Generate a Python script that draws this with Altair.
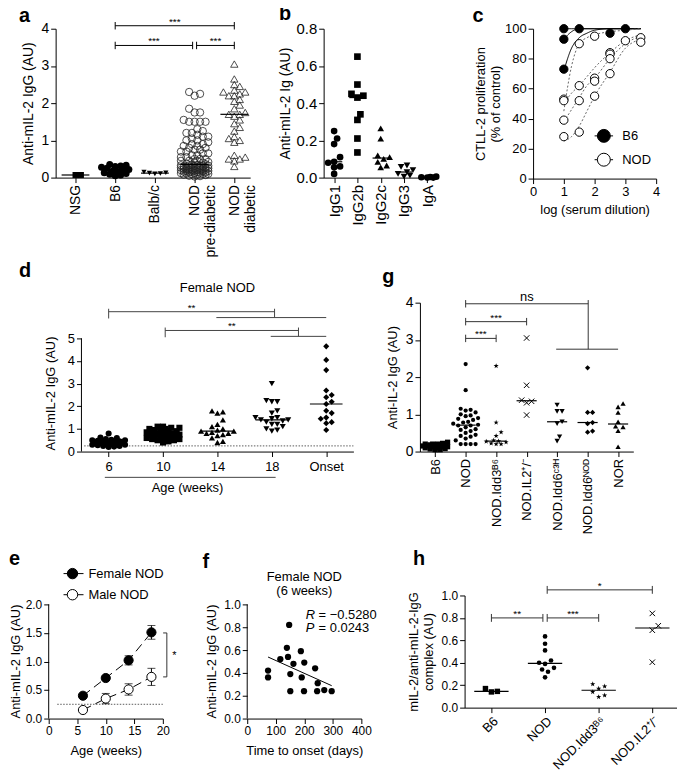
import json
import math
import numpy as np
import pandas as pd
import altair as alt

FONT = "Liberation Sans"

# ---------------- data ----------------
# panel a
A_LABELS = [["NSG"], ["B6"], ["Balb/c"], ["NOD", "pre-diabetic"], ["NOD", "diabetic"]]
A_NSG = [0.07, 0.07]
A_B6 = [0.35, 0.33, 0.31, 0.3, 0.28, 0.25, 0.22, 0.2, 0.17, 0.15, 0.13, 0.11, 0.09, 0.07, 0.05]
A_BALBC = [0.15, 0.13, 0.12, 0.11, 0.1]
A_NOD_PRE = [2.3, 2.25, 2.2, 1.85, 1.75, 1.75, 1.55, 1.5, 1.5, 1.5, 1.5, 1.3, 1.25, 1.2, 1.2,
             1.15, 1.1, 1.1, 1.05, 1.0, 1.0, 0.95, 0.9, 0.9, 0.85, 0.85, 0.8, 0.8, 0.75, 0.75,
             0.7, 0.7, 0.65, 0.65, 0.6, 0.6, 0.55, 0.55, 0.5, 0.5, 0.5, 0.45, 0.45, 0.45, 0.42,
             0.4, 0.4, 0.38, 0.36, 0.35, 0.34, 0.33, 0.33, 0.32, 0.32, 0.31, 0.3, 0.3, 0.3, 0.28,
             0.28, 0.28, 0.27, 0.26, 0.26, 0.25, 0.25, 0.24, 0.24, 0.23, 0.22, 0.22, 0.21, 0.2,
             0.2, 0.2, 0.19, 0.18, 0.18, 0.17, 0.16, 0.16, 0.15, 0.14, 0.14, 0.13, 0.12, 0.12,
             0.11, 0.1, 0.1, 0.09, 0.08, 0.08, 0.07, 0.05, 0.04, 0.03]
A_NOD_DIAB = [3.05, 2.65, 2.5, 2.45, 2.35, 2.3, 2.3, 2.25, 2.2, 2.2, 2.1, 2.05, 1.95, 1.85,
              1.75, 1.7, 1.7, 1.65, 1.55, 1.45, 1.35, 1.25, 1.1, 1.05, 1.0, 0.95, 0.6, 0.55,
              0.5, 0.5, 0.45, 0.3]
A_BRACKETS = [(1, 4, 4.08, "***"), (1, 2.95, 3.55, "***"), (3.05, 4, 3.55, "***")]

# panel b
B_LABELS = [["IgG1"], ["IgG2b"], ["IgG2c"], ["IgG3"], ["IgA"]]
B_IGG1 = [0.25, 0.21, 0.18, 0.11, 0.085, 0.08, 0.06, 0.055, 0.02]
B_IGG2B = [0.65, 0.5, 0.45, 0.44, 0.43, 0.34, 0.31, 0.21, 0.135]
B_IGG2C = [0.265, 0.21, 0.12, 0.11, 0.1, 0.085, 0.065, 0.055]
B_IGG3 = [0.065, 0.057, 0.04, 0.03, 0.02, 0.01, 0.005]
B_IGA = [0.0, 0.003, 0.005, 0.002, 0.0]

# panel c
C_B6_X = [1, 1, 1, 1.5, 2.5, 3]
C_B6_Y = [100, 93, 73, 100, 97, 100]
C_NOD_X = [1, 1, 1, 1, 1.5, 1.5, 1.5, 1.5, 2, 2, 2, 2, 2.5, 2.5, 2.5, 2.5, 3, 3.5, 3.5]
C_NOD_Y = [53, 52, 39, 28, 90, 62, 52, 31, 95, 67, 65, 55, 84, 83, 80, 70, 92, 94, 91]
C_FIT_X = [1, 1.25, 1.5, 1.75, 2, 2.5, 3, 3.5]
C_FIT_B6 = [[100, 100, 100, 100, 100, 100, 100, 100],
            [93, 98, 100, 100, 100, 100, 100, 100],
            [72, 87, 94, 97, 99, 100, 100, 100]]
C_FIT_NOD = [[45, 75, 90, 94, 96, 98, 99, 100],
             [50, 57, 62, 68, 74, 84, 92, 96],
             [38, 46, 54, 62, 67, 80, 90, 95],
             [25, 28, 35, 45, 55, 71, 87, 93]]
C_LEGEND = ["B6", "NOD"]
C_LEGEND_Y = [28.5, 12.6]

# panel d
D_LABELS = [["6"], ["10"], ["14"], ["18"], ["Onset"]]
D_6W = [0.8, 0.62, 0.6, 0.55, 0.52, 0.5, 0.5, 0.48, 0.45, 0.45, 0.42, 0.4, 0.4, 0.4, 0.38,
        0.35, 0.35, 0.33, 0.3, 0.3, 0.28, 0.25, 0.25, 0.22, 0.2]
D_10W = [1.1, 1.1, 1.05, 1.05, 1.0, 1.0, 0.95, 0.95, 0.9, 0.9, 0.85, 0.85, 0.8, 0.8, 0.78,
         0.75, 0.75, 0.72, 0.7, 0.7, 0.65, 0.65, 0.6, 0.6, 0.55, 0.55, 0.5, 0.5, 0.45, 0.4]
D_14W = [1.8, 1.75, 1.7, 1.4, 1.2, 1.1, 1.0, 0.95, 0.9, 0.9, 0.85, 0.8, 0.8, 0.75, 0.7,
         0.6, 0.45, 0.4]
D_18W = [3.0, 2.25, 2.2, 2.2, 1.8, 1.7, 1.5, 1.5, 1.45, 1.4, 1.4, 1.35, 1.3, 1.2, 1.2, 1.1,
         1.0, 0.95, 0.9]
D_ONSET = [4.65, 4.05, 3.6, 2.7, 2.5, 2.4, 2.2, 2.1, 1.8, 1.7, 1.5, 1.45, 1.3, 1.25, 0.95]
D_BRACKETS = [(0, 3.05, 6.18, "**", 1.98, 4.0, 5.92), (1.04, 3.49, 5.35, "**", 2.98, 4.0, 5.09)]
D_THRESHOLD = 0.25

# panel g
G_LABELS = [["B6"], ["NOD"], ["NOD.Idd3ᴮ⁶"], ["NOD.IL2⁺/⁻"], ["NOD.Idd6ᶜ³ᴴ"], ["NOD.Idd6ᴺᴼᴰ"], ["NOR"]]
G_B6 = [0.25, 0.22, 0.2, 0.2, 0.2, 0.18, 0.18, 0.17, 0.15, 0.15, 0.15, 0.13, 0.12, 0.12, 0.1,
        0.1, 0.08, 0.07, 0.05, 0.05]
G_NOD = [2.35, 1.65, 1.15, 1.12, 1.1, 1.05, 1.0, 0.97, 0.95, 0.9, 0.88, 0.85, 0.8, 0.78, 0.75,
         0.72, 0.7, 0.7, 0.65, 0.6, 0.58, 0.55, 0.5, 0.45, 0.42, 0.4, 0.35, 0.3, 0.2, 0.2, 0.2, 0.2]
G_IDD3 = [2.3, 0.78, 0.52, 0.42, 0.3, 0.28, 0.27, 0.25, 0.22, 0.2, 0.2]
G_IL2 = [3.05, 1.78, 1.38, 1.35, 1.31, 0.98]
G_C3H = [1.25, 1.08, 1.08, 0.8, 0.75, 0.4, 0.28]
G_IDD6NOD = [2.25, 1.05, 1.05, 0.78, 0.75, 0.55, 0.52]
G_NOR = [1.29, 1.2, 1.05, 0.8, 0.68, 0.66, 0.56, 0.13]
G_BRACKETS = [(1, 3, 3.49, "***"), (1, 2, 3.04, "***")]
G_NS = [(1, 5.02, 3.97, "ns", 3.97, 6.0, 2.75)]

# panel e
E_AGE = [6, 10, 14, 18]
E_FEMALE = [0.4, 0.71, 1.02, 1.51]
E_FEMALE_SEM = [0.02, 0.03, 0.08, 0.12]
E_MALE = [0.15, 0.35, 0.51, 0.73]
E_MALE_SEM = [0.02, 0.09, 0.1, 0.15]
E_LEGEND = ["Female NOD", "Male NOD"]
E_LEGEND_Y = [2.54, 2.17]

# panel f
F_DAYS = [73, 73, 116, 147, 139, 143, 151, 151, 162, 188, 191, 200, 199, 238, 247, 245, 270, 296]
F_IGG = [0.42, 0.36, 0.52, 0.82, 0.62, 0.54, 0.39, 0.24, 0.48, 0.59, 0.36, 0.49, 0.24, 0.44,
         0.31, 0.24, 0.25, 0.24]

# panel h
H_LABELS = [["B6"], ["NOD"], ["NOD.Idd3ᴮ⁶"], ["NOD.IL2⁺/⁻"]]
H_B6 = [0.17, 0.14, 0.145]
H_NOD = [0.635, 0.57, 0.51, 0.42, 0.4, 0.39, 0.355, 0.34, 0.32, 0.27]
H_IDD3 = [0.21, 0.19, 0.17, 0.14, 0.11, 0.095]
H_IL2 = [0.84, 0.73, 0.69, 0.405]
H_BRACKETS = [(1.04, 3, 1.05, "*"), (0, 0.96, 0.8, "**"), (1.04, 2, 0.8, "***")]

STAR = ("M0,-1L0.235,-0.324L0.951,-0.309L0.38,0.124L0.588,0.809L0,0.4L-0.588,0.809"
        "L-0.38,0.124L-0.951,-0.309L-0.235,-0.324Z")
XMARK = "M-1,-1L1,1M-1,1L1,-1"


# ---------------- helpers ----------------
def swarm(vals, ppy, diam, maxoff):
    order = sorted(range(len(vals)), key=lambda i: vals[i])
    step = diam / 2.0
    cands = [0.0]
    k = 1
    while k * step <= maxoff + 1e-9:
        cands += [k * step, -k * step]
        k += 1
    placed = []
    offs = [0.0] * len(vals)
    for i in order:
        yy = vals[i] * ppy
        best, bestd = 0.0, -1.0
        for c in cands:
            d = min((math.hypot(c - px, yy - py) for px, py in placed), default=1e9)
            if d >= diam:
                best = c
                break
            if d > bestd:
                best, bestd = c, d
        placed.append((best, yy))
        offs[i] = best
    return offs


def labexpr(labels):
    return json.dumps(labels, ensure_ascii=False) + "[round(datum.value)]"


def strip_layers(groups, styles, X, Y, ppx, ppy, diam, maxoff, half):
    layers = []
    for idx, (vals, st) in enumerate(zip(groups, styles)):
        offs = swarm(vals, ppy, diam, maxoff)
        df = pd.DataFrame({"x": [idx + o / ppx for o in offs], "y": vals})
        layers.append(alt.Chart(df).mark_point(opacity=1, **st).encode(x=X, y=Y))
    med = pd.DataFrame({
        "x": [i - half for i in range(len(groups))],
        "x2": [i + half for i in range(len(groups))],
        "y": [float(np.median(g)) for g in groups],
    })
    med["y2"] = med["y"]
    layers.append(alt.Chart(med).mark_rule(color="black", strokeWidth=1.2).encode(
        x=X, x2=alt.X2("x2"), y=Y, y2=alt.Y2("y2")))
    return layers


def seg_layer(segs, X, Y, color="black", width=1.0, dash=None):
    df = pd.DataFrame(segs, columns=["x", "x2", "y", "y2"])
    kw = dict(color=color, strokeWidth=width)
    if dash:
        kw["strokeDash"] = dash
    return alt.Chart(df).mark_rule(**kw).encode(x=X, x2=alt.X2("x2"), y=Y, y2=alt.Y2("y2"))


def text_layer(items, X, Y, size=10, dy=0, dx=0, baseline="alphabetic", align="center",
               style="normal"):
    df = pd.DataFrame(items, columns=["x", "y", "t"])
    return alt.Chart(df).mark_text(font=FONT, fontSize=size, dy=dy, dx=dx, baseline=baseline,
                                   align=align, color="black", fontStyle=style).encode(
        x=X, y=Y, text="t:N")


def brackets(items, tick):
    segs, texts = [], []
    for x1, x2, y, lab in items:
        segs += [(x1, x2, y, y), (x1, x1, y - tick, y + tick), (x2, x2, y - tick, y + tick)]
        texts.append(((x1 + x2) / 2, y, lab))
    return segs, texts


def branch_brackets(items, up, down):
    segs, texts = [], []
    for x1, x2, y, lab, lx1, lx2, ly in items:
        segs += [(x1, x2, y, y), (x1, x1, y + up, y - down), (x2, x2, y + up, ly), (lx1, lx2, ly, ly)]
        texts.append(((x1 + x2) / 2, y, lab))
    return segs, texts


def letter(t, dx, dy):
    return alt.TitleParams(text=t, anchor="start", frame="group", orient="top", fontSize=20,
                           fontWeight="bold", font=FONT, dx=dx, dy=dy, offset=0, color="black",
                           baseline="alphabetic")


def qscale(lo, hi):
    return alt.Scale(domain=[lo, hi], nice=False, zero=False)


def spacer(w):
    return alt.Chart(pd.DataFrame({"v": [0]})).mark_point(opacity=0, size=1).encode(
        x=alt.value(0), y=alt.value(0)).properties(width=w, height=1)


# ---------------- panel a ----------------
Xa = alt.X("x:Q", scale=qscale(-0.5, 4.4), axis=alt.Axis(
    values=[0, 1, 2, 3, 4], labelExpr=labexpr(A_LABELS), labelAngle=-90, labelFontSize=14,
    labelOverlap=False, labelFlush=False, title=None))
Ya = alt.Y("y:Q", scale=qscale(0, 4), axis=alt.Axis(
    values=[0, 1, 2, 3, 4], format="d", labelFontSize=14, title="Anti-mIL-2 IgG (AU)",
    titleFontSize=14, titlePadding=6))
a_styles = [dict(shape="square", filled=True, size=36, color="black"),
            dict(shape="circle", filled=True, size=50, color="black"),
            dict(shape="triangle-down", filled=True, size=28, color="black"),
            dict(shape="circle", filled=False, size=55, color="#222222", strokeWidth=0.8),
            dict(shape="triangle-up", filled=False, size=55, color="#222222", strokeWidth=0.8)]
a_layers = strip_layers([A_NSG, A_B6, A_BALBC, A_NOD_PRE, A_NOD_DIAB], a_styles, Xa, Ya,
                        40, 37.5, 5.5, 16, 0.35)
segs, texts = brackets(A_BRACKETS, 0.1)
a_layers += [seg_layer(segs, Xa, Ya), text_layer(texts, Xa, Ya, size=10, dy=-1)]
panel_a = alt.layer(*a_layers).properties(width=196, height=150, title=letter("a", -37, 25))

# ---------------- panel b ----------------
Xb = alt.X("x:Q", scale=qscale(-0.45, 4.45), axis=alt.Axis(
    values=[0, 1, 2, 3, 4], labelExpr=labexpr(B_LABELS), labelAngle=-90, labelFontSize=15,
    labelOverlap=False, labelFlush=False, title=None))
Yb = alt.Y("y:Q", scale=qscale(0, 0.8), axis=alt.Axis(
    values=[0, 0.2, 0.4, 0.6, 0.8], format=".1f", labelFontSize=15, title="Anti-mIL-2 Ig (AU)",
    titleFontSize=14, titlePadding=4))
b_styles = [dict(shape="circle", filled=True, size=45, color="black"),
            dict(shape="square", filled=True, size=45, color="black"),
            dict(shape="triangle-up", filled=True, size=45, color="black"),
            dict(shape="triangle-down", filled=True, size=45, color="black"),
            dict(shape="circle", filled=True, size=45, color="black")]
b_layers = strip_layers([B_IGG1, B_IGG2B, B_IGG2C, B_IGG3, B_IGA], b_styles, Xb, Yb,
                        23.5, 187.5, 6, 9, 0.35)
panel_b = alt.layer(*b_layers).properties(width=115, height=150, title=letter("b", -45, 18))

# ---------------- panel c ----------------
Xc = alt.X("x:Q", scale=qscale(0, 4), axis=alt.Axis(
    values=[0, 1, 2, 3, 4], format="d", labelFontSize=13, labelFlush=False,
    title="log (serum dilution)", titleFontSize=13, titlePadding=5))
Yc = alt.Y("y:Q", scale=qscale(0, 100), axis=alt.Axis(
    values=[0, 20, 40, 60, 80, 100], format="d", labelFontSize=13,
    title=["CTLL-2 proliferation", "(% of control)"], titleFontSize=13, titlePadding=2))
fit_rows = []
for k, curve in enumerate(C_FIT_B6):
    for xv, yv in zip(C_FIT_X, curve):
        fit_rows.append({"x": xv, "y": yv, "grp": "B6", "animal": "B6_%d" % k})
for k, curve in enumerate(C_FIT_NOD):
    for xv, yv in zip(C_FIT_X, curve):
        fit_rows.append({"x": xv, "y": yv, "grp": "NOD", "animal": "NOD_%d" % k})
c_fit = pd.DataFrame(fit_rows)
c_lines = alt.Chart(c_fit).mark_line(interpolate="monotone", strokeWidth=1).encode(
    x=Xc, y=Yc, detail="animal:N",
    color=alt.Color("grp:N", scale=alt.Scale(domain=["B6", "NOD"], range=["black", "#666666"]),
                    legend=None),
    strokeDash=alt.StrokeDash("grp:N", scale=alt.Scale(domain=["B6", "NOD"],
                                                       range=[[1, 0], [2, 2]]), legend=None))
c_b6 = alt.Chart(pd.DataFrame({"x": C_B6_X, "y": C_B6_Y})).mark_point(
    shape="circle", size=70, filled=True, fill="black", stroke="black", strokeWidth=1,
    opacity=1).encode(x=Xc, y=Yc)
c_nod = alt.Chart(pd.DataFrame({"x": C_NOD_X, "y": C_NOD_Y})).mark_point(
    shape="circle", size=70, filled=True, fill="white", stroke="black", strokeWidth=1,
    opacity=1).encode(x=Xc, y=Yc)
c_leg_line = seg_layer([(2.0, 2.6, yv, yv) for yv in C_LEGEND_Y], Xc, Yc)
c_leg_b6 = alt.Chart(pd.DataFrame({"x": [2.3], "y": [C_LEGEND_Y[0]]})).mark_point(
    shape="circle", size=170, filled=True, fill="black", stroke="black", strokeWidth=1,
    opacity=1).encode(x=Xc, y=Yc)
c_leg_nod = alt.Chart(pd.DataFrame({"x": [2.3], "y": [C_LEGEND_Y[1]]})).mark_point(
    shape="circle", size=170, filled=True, fill="white", stroke="black", strokeWidth=1,
    opacity=1).encode(x=Xc, y=Yc)
c_leg_txt = text_layer([(2.9, yv, t) for t, yv in zip(C_LEGEND, C_LEGEND_Y)], Xc, Yc, size=13,
                       baseline="middle", align="left")
panel_c = alt.layer(c_lines, c_b6, c_nod, c_leg_line, c_leg_b6, c_leg_nod, c_leg_txt).properties(
    width=124, height=151, title=letter("c", -61, 19))

# ---------------- panel d ----------------
D_TOP = 150 / 22.8
Xd = alt.X("x:Q", scale=qscale(-0.5, 4.5), axis=alt.Axis(
    values=[0, 1, 2, 3, 4], labelExpr=labexpr(D_LABELS), labelAngle=0, labelFontSize=13,
    labelPadding=4, labelOverlap=False, labelFlush=False, title=None))
Yd = alt.Y("y:Q", scale=qscale(0, D_TOP), axis=alt.Axis(
    values=[0, 1, 2, 3, 4, 5], format="d", labelFontSize=13, title="Anti-mIL-2 IgG (AU)",
    titleFontSize=13, titlePadding=10, domain=False, titleY=91))
d_styles = [dict(shape="circle", filled=True, size=38, color="black"),
            dict(shape="square", filled=True, size=38, color="black"),
            dict(shape="triangle-up", filled=True, size=38, color="black"),
            dict(shape="triangle-down", filled=True, size=38, color="black"),
            dict(shape="diamond", filled=True, size=38, color="black")]
d_layers = [seg_layer([(-0.5, -0.5, 0, 5)], Xd, Yd),
            seg_layer([(-0.45, 4.5, D_THRESHOLD, D_THRESHOLD)], Xd, Yd, color="#333333",
                      width=0.8, dash=[1.5, 1.5])]
d_layers += strip_layers([D_6W, D_10W, D_14W, D_18W, D_ONSET], d_styles, Xd, Yd,
                         54.8, 22.8, 5.5, 18, 0.3)
segs, texts = branch_brackets(D_BRACKETS, 0.13, 0.3)
segs.append((-0.07, 3.07, -1.14, -1.14))
d_layers += [seg_layer(segs, Xd, Yd, color="#444444"),
             text_layer(texts, Xd, Yd, size=10, dy=-1),
             text_layer([(2.0, 7.24, "Female NOD"), (1.45, -1.62, "Age (weeks)")], Xd, Yd,
                        size=13, baseline="middle")]
panel_d = alt.layer(*d_layers).properties(width=274, height=150, title=letter("d", -63, 15))

# ---------------- panel g ----------------
Xg = alt.X("x:Q", scale=qscale(-0.5, 6.5), axis=alt.Axis(
    values=list(range(7)), labelExpr=labexpr(G_LABELS), labelAngle=-90, labelFontSize=13,
    labelOverlap=False, labelFlush=False, title="g", titleOpacity=0, titleX=10, titleY=96,
    titleBaseline="bottom", titleAlign="left", titleFontSize=10))
Yg = alt.Y("y:Q", scale=qscale(0, 4), axis=alt.Axis(
    values=[0, 1, 2, 3, 4], format="d", labelFontSize=14, title="Anti-IL-2 IgG (AU)",
    titleFontSize=13, titlePadding=6))
g_styles = [dict(shape="square", filled=True, size=28, color="black"),
            dict(shape="circle", filled=True, size=18, color="black"),
            dict(shape=STAR, filled=True, size=30, color="black"),
            dict(shape=XMARK, filled=False, size=30, color="black", strokeWidth=1),
            dict(shape="triangle-down", filled=True, size=28, color="black"),
            dict(shape="diamond", filled=True, size=28, color="black"),
            dict(shape="triangle-up", filled=True, size=28, color="black")]
g_layers = strip_layers([G_B6, G_NOD, G_IDD3, G_IL2, G_C3H, G_IDD6NOD, G_NOR], g_styles,
                        Xg, Yg, 30.7, 37.5, 5, 14, 0.33)
segs, texts = brackets(G_BRACKETS, 0.1)
segs2, texts2 = branch_brackets(G_NS, 0.1, 0.1)
g_layers += [seg_layer(segs + segs2, Xg, Yg, color="#333333"),
             text_layer(texts, Xg, Yg, size=10, dy=-1),
             text_layer(texts2, Xg, Yg, size=13, dy=-3)]
panel_g = alt.layer(*g_layers).properties(width=215, height=150, title=letter("g", -38, 12))

# ---------------- panel e ----------------
E_TOP = 124 / 57.5
Xe = alt.X("x:Q", scale=qscale(0, 20), axis=alt.Axis(
    values=[0, 5, 10, 15, 20], format="d", labelFontSize=12, labelFlush=False,
    title="Age (weeks)", titleFontSize=13, titlePadding=8))
Ye = alt.Y("y:Q", scale=qscale(0, E_TOP), axis=alt.Axis(
    values=[0, 0.5, 1, 1.5, 2], format=".1f", labelFontSize=12, title="Anti-mIL-2 IgG (AU)",
    titleFontSize=13, titlePadding=3, domain=False, titleY=66))
e_df = pd.DataFrame({"x": E_AGE + E_AGE, "y": E_FEMALE + E_MALE,
                     "sem": E_FEMALE_SEM + E_MALE_SEM,
                     "sex": ["Female NOD"] * 4 + ["Male NOD"] * 4})
e_err = pd.DataFrame({"x": e_df["x"], "y": e_df["y"] - e_df["sem"], "y2": e_df["y"] + e_df["sem"]})
e_lo = pd.DataFrame({"x": e_df["x"], "y": e_df["y"] - e_df["sem"]})
e_hi = pd.DataFrame({"x": e_df["x"], "y": e_df["y"] + e_df["sem"]})
e_fem = e_df[e_df["sex"] == "Female NOD"]
e_mal = e_df[e_df["sex"] == "Male NOD"]
e_layers = [
    seg_layer([(0, 0, 0, 2)], Xe, Ye),
    seg_layer([(1.5, 20, 0.25, 0.25)], Xe, Ye, color="#333333", width=0.8, dash=[1.5, 1.5]),
    alt.Chart(e_df).mark_line(color="black", strokeWidth=1, strokeDash=[9, 5]).encode(
        x=Xe, y=Ye, detail="sex:N"),
    alt.Chart(e_err).mark_rule(color="black", strokeWidth=1).encode(x=Xe, y=Ye, y2=alt.Y2("y2")),
    alt.Chart(e_lo).mark_tick(orient="horizontal", size=8, thickness=1, color="black").encode(
        x=Xe, y=Ye),
    alt.Chart(e_hi).mark_tick(orient="horizontal", size=8, thickness=1, color="black").encode(
        x=Xe, y=Ye),
    alt.Chart(e_fem).mark_point(shape="circle", size=85, filled=True, fill="black",
                                stroke="black", strokeWidth=1, opacity=1).encode(x=Xe, y=Ye),
    alt.Chart(e_mal).mark_point(shape="circle", size=85, filled=True, fill="white",
                                stroke="black", strokeWidth=1, opacity=1).encode(x=Xe, y=Ye),
    seg_layer([(20.7, 20.7, 0.73, 1.5), (20.05, 20.7, 1.5, 1.5), (20.05, 20.7, 0.73, 0.73)],
              Xe, Ye, color="#333333"),
    text_layer([(22.0, 1.1, "*")], Xe, Ye, size=11, baseline="middle"),
    seg_layer([(2.6, 6.1, yv, yv) for yv in E_LEGEND_Y], Xe, Ye),
    alt.Chart(pd.DataFrame({"x": [4.17], "y": [E_LEGEND_Y[0]]})).mark_point(
        shape="circle", size=110, filled=True, fill="black", stroke="black", strokeWidth=1,
        opacity=1).encode(x=Xe, y=Ye),
    alt.Chart(pd.DataFrame({"x": [4.17], "y": [E_LEGEND_Y[1]]})).mark_point(
        shape="circle", size=110, filled=True, fill="white", stroke="black", strokeWidth=1,
        opacity=1).encode(x=Xe, y=Ye),
    text_layer([(6.96, yv, t) for t, yv in zip(E_LEGEND, E_LEGEND_Y)], Xe, Ye, size=13,
               baseline="middle", align="left"),
]
panel_e = alt.layer(*e_layers).properties(width=115, height=124, title=letter("e", -40, 19))

# ---------------- panel f ----------------
F_TOP = 124 / 115
Xf = alt.X("x:Q", scale=qscale(0, 400), axis=alt.Axis(
    values=[0, 100, 200, 300, 400], format="d", labelFontSize=12, labelFlush=False,
    title="Time to onset (days)", titleFontSize=13, titlePadding=8))
Yf = alt.Y("y:Q", scale=qscale(0, F_TOP), axis=alt.Axis(
    values=[0, 0.2, 0.4, 0.6, 0.8, 1.0], format=".1f", labelFontSize=12,
    title="Anti-mIL-2 IgG (AU)", titleFontSize=13, titlePadding=5, domain=False, titleY=66))
f_df = pd.DataFrame({"x": F_DAYS, "y": F_IGG})
f_layers = [
    seg_layer([(0, 0, 0, 1)], Xf, Yf),
    alt.Chart(f_df).transform_regression("x", "y").mark_line(color="black", strokeWidth=1)
    .encode(x=Xf, y=Yf),
    alt.Chart(f_df).mark_point(shape="circle", size=40, filled=True, color="black", opacity=1)
    .encode(x=Xf, y=Yf),
    text_layer([(200, 1.24, "Female NOD"), (200, 1.12, "(6 weeks)")], Xf, Yf, size=13,
               baseline="middle"),
    text_layer([(205, 0.91, "R"), (205, 0.79, "P")], Xf, Yf, size=13, baseline="middle",
               align="left", style="italic"),
    text_layer([(205, 0.91, "= \u22120.5280"), (205, 0.79, "= 0.0243")], Xf, Yf, size=13,
               baseline="middle", align="left", dx=13),
]
panel_f = alt.layer(*f_layers).properties(width=115, height=124, title=letter("f", -45, 17))

# ---------------- panel h ----------------
Xh = alt.X("x:Q", scale=qscale(-0.5, 3.46), axis=alt.Axis(
    values=[0, 1, 2, 3], labelExpr=labexpr(H_LABELS), labelAngle=-45, labelFontSize=13,
    labelOverlap=False, labelFlush=False, title=None))
Yh = alt.Y("y:Q", scale=qscale(0, 1), axis=alt.Axis(
    values=[0, 0.2, 0.4, 0.6, 0.8, 1.0], format=".1f", labelFontSize=12,
    title=["mIL-2/anti-mIL-2-IgG", "complex (AU)"], titleFontSize=13, titlePadding=6))
h_styles = [dict(shape="square", filled=True, size=30, color="black"),
            dict(shape="circle", filled=True, size=22, color="black"),
            dict(shape=STAR, filled=True, size=30, color="black"),
            dict(shape=XMARK, filled=False, size=30, color="black", strokeWidth=1)]
h_layers = strip_layers([H_B6, H_NOD, H_IDD3, H_IL2], h_styles, Xh, Yh, 54, 113, 6, 14, 0.32)
segs, texts = brackets(H_BRACKETS, 0.035)
h_layers += [seg_layer(segs, Xh, Yh, color="#333333"), text_layer(texts, Xh, Yh, size=10, dy=-1)]
panel_h = alt.layer(*h_layers).properties(width=214, height=113, title=letter("h", -52, 4))

# ---------------- layout ----------------
row1 = alt.hconcat(spacer(47), panel_a, spacer(74), panel_b, spacer(96), panel_c,
                   spacing=0, bounds="flush")
row2 = alt.hconcat(spacer(73), panel_d, spacer(67), panel_g, spacing=0, bounds="flush")
row3 = alt.hconcat(spacer(40), panel_e, spacer(85), panel_f, spacer(104), panel_h,
                   spacing=0, bounds="flush")

chart = alt.vconcat(row1, row2, row3, spacing=2).properties(
    padding={"left": 0, "top": -7, "right": 0, "bottom": 0}, background="white"
).configure_view(stroke=None).configure_axis(
    grid=False, domainColor="black", tickColor="black", labelColor="black", titleColor="black",
    labelFont=FONT, titleFont=FONT, titleFontWeight="normal", tickSize=5, domainWidth=1,
    tickWidth=1, labelPadding=2
)

chart.save("out.html", embed_options={"renderer": "svg", "actions": False})
